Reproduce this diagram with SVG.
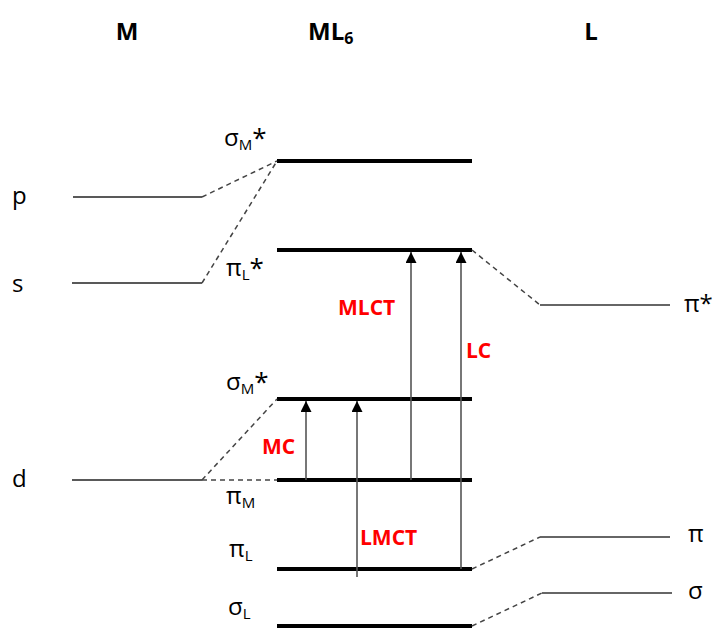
<svg xmlns="http://www.w3.org/2000/svg" width="721" height="628" viewBox="0 0 721 628">
<defs>
<style>
.t{font-family:"Open Sans","Liberation Sans",sans-serif;fill:#000}
.h{font-family:"Open Sans","Liberation Sans",sans-serif;font-weight:bold;font-size:24px;fill:#000}
.lab{font-size:24px}
.sub{font-size:15px}
.ast{font-size:26px}
.red{font-family:"Open Sans","Liberation Sans",sans-serif;font-weight:bold;font-size:21px;fill:#ff0000}
.thin{stroke:#222;stroke-width:1.6}
.right{stroke:#666;stroke-width:2}
.thick{stroke:#000;stroke-width:4}
.dash{stroke:#444;stroke-width:1.5;stroke-dasharray:5,4;fill:none}
.arr{stroke:#555;stroke-width:1.6;marker-end:url(#ah)}
</style>
<marker id="ah" viewBox="0 0 10 10" refX="10" refY="5" markerWidth="11" markerHeight="11" markerUnits="userSpaceOnUse" orient="auto">
<path d="M0,0 L10,5 L0,10 z" fill="#000"/>
</marker>
</defs>
<g id="headers">
<text class="h" x="127" y="40" text-anchor="middle">M</text>
<text class="h" x="308" y="40">ML<tspan font-size="16" dy="4">6</tspan></text>
<text class="h" x="591" y="40" text-anchor="middle">L</text>
</g>
<g id="metal">
<g id="p"><line class="thin" x1="73" y1="197" x2="202" y2="197"/><text class="t lab" x="12" y="204">p</text></g>
<g id="s"><line class="thin" x1="72" y1="283" x2="202" y2="283"/><text class="t lab" x="12" y="292">s</text></g>
<g id="d"><line class="thin" x1="72" y1="480" x2="202" y2="480"/><text class="t lab" x="12" y="487">d</text></g>
</g>
<g id="complex">
<g id="sigmaM1"><line class="thick" x1="277" y1="161" x2="472" y2="161"/><text class="t lab" x="224" y="146">σ<tspan class="sub" dy="4">M</tspan><tspan class="ast" dy="-3">*</tspan></text></g>
<g id="piLstar"><line class="thick" x1="277" y1="250" x2="472" y2="250"/><text class="t lab" x="226" y="276">π<tspan class="sub" dy="4">L</tspan><tspan class="ast" dy="-3">*</tspan></text></g>
<g id="sigmaM2"><line class="thick" x1="277" y1="399" x2="472" y2="399"/><text class="t lab" x="226" y="390">σ<tspan class="sub" dy="4">M</tspan><tspan class="ast" dy="-3">*</tspan></text></g>
<g id="piM"><line class="thick" x1="277" y1="480" x2="472" y2="480"/><text class="t lab" x="226" y="504">π<tspan class="sub" dy="4">M</tspan></text></g>
<g id="piL"><line class="thick" x1="277" y1="569" x2="472" y2="569"/><text class="t lab" x="229" y="557">π<tspan class="sub" dy="4">L</tspan></text></g>
<g id="sigmaL"><line class="thick" x1="277" y1="626" x2="472" y2="626"/><text class="t lab" x="228" y="615">σ<tspan class="sub" dy="4">L</tspan></text></g>
</g>
<g id="ligand">
<g id="pistar"><line class="right" x1="540" y1="305" x2="670" y2="305"/><text class="t lab" x="684" y="312">π*</text></g>
<g id="pi"><line class="right" x1="540" y1="537" x2="670" y2="537"/><text class="t lab" x="688" y="542">π</text></g>
<g id="sigma"><line class="right" x1="542" y1="593" x2="672" y2="593"/><text class="t lab" x="688" y="599">σ</text></g>
</g>
<g id="connectors">
<path class="dash" d="M202,197 L277,161"/>
<path class="dash" d="M202,283 L277,161"/>
<path class="dash" d="M202,480 L277,399"/>
<path class="dash" d="M202,480 L277,480"/>
<path class="dash" d="M472,250 L540,305"/>
<path class="dash" d="M472,569 L540,537"/>
<path class="dash" d="M472,626 L542,593"/>
<line class="arr" x1="306" y1="480" x2="306" y2="401"/>
<line class="arr" x1="357" y1="577" x2="357" y2="401"/>
<line class="arr" x1="411" y1="480" x2="411" y2="252"/>
<line class="arr" x1="461" y1="569" x2="461" y2="252"/>
</g>
<g id="labels">
<text class="red" x="262" y="454">MC</text>
<text class="red" x="360" y="545">LMCT</text>
<text class="red" x="338" y="315">MLCT</text>
<text class="red" x="466" y="358">LC</text>
</g>
</svg>
